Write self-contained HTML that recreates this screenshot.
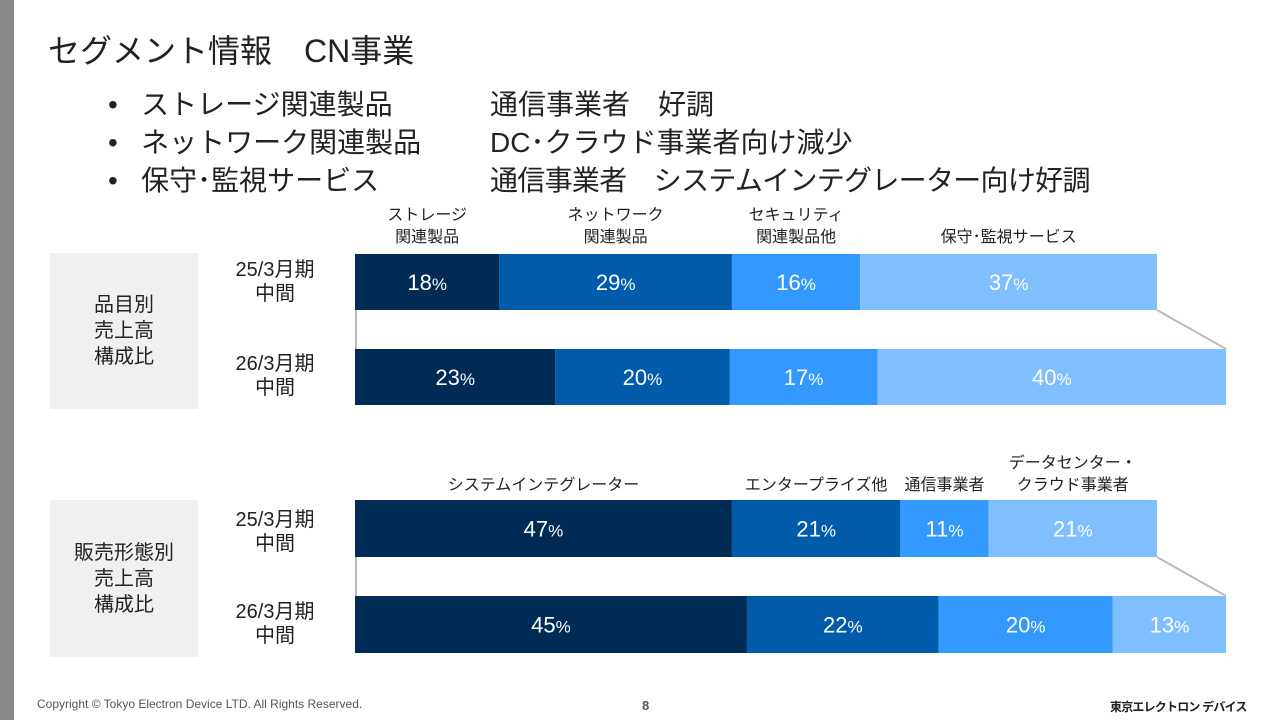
<!DOCTYPE html>
<html><head><meta charset="utf-8"><style>
body{margin:0;width:1280px;height:720px;background:#fff;position:relative;overflow:hidden;font-family:"Liberation Sans","Noto Sans CJK JP",sans-serif;color:#222}
.a{position:absolute}
.box{position:absolute;background:#f0f0f0;left:50px;width:148px;display:flex;align-items:center;justify-content:center;text-align:center;font-size:20px;line-height:26px}
.rl{position:absolute;left:215px;width:120px;text-align:center;font-size:20px;line-height:24px}
.bul{position:absolute;font-size:28px;left:108px;white-space:nowrap}
</style></head><body>
<div class="a" style="left:0;top:0;width:14px;height:720px;background:#888"></div>
<div class="a" style="left:48px;top:26px;font-size:32px">セグメント情報　CN事業</div>
<div class="bul" style="top:83px">•&nbsp;&nbsp; ストレージ関連製品</div>
<div class="bul" style="top:121px">•&nbsp;&nbsp; ネットワーク関連製品</div>
<div class="bul" style="top:159px">•&nbsp;&nbsp; 保守･監視サービス</div>
<div class="bul" style="top:83px;left:490px">通信事業者　好調</div>
<div class="bul" style="top:121px;left:490px">DC･クラウド事業者向け減少</div>
<div class="bul" style="top:159px;left:490px;letter-spacing:-0.7px">通信事業者　システムインテグレーター向け好調</div>
<div class="box" style="top:253px;height:156px">品目別<br>売上高<br>構成比</div>
<div class="box" style="top:500px;height:157px">販売形態別<br>売上高<br>構成比</div>
<div class="rl" style="top:258px">25/3月期<br>中間</div>
<div class="rl" style="top:352px">26/3月期<br>中間</div>
<div class="rl" style="top:508px">25/3月期<br>中間</div>
<div class="rl" style="top:600px">26/3月期<br>中間</div>
<svg class="a" style="left:0;top:0" width="1280" height="720" id="chart"></svg>
<div class="a" style="left:37px;top:697px;font-size:12px;color:#555">Copyright © Tokyo Electron Device LTD. All Rights Reserved.</div>
<div class="a" style="left:642px;top:698px;font-size:13px;color:#555;font-weight:bold">8</div>
<div class="a" style="left:1110px;top:698px;font-size:12px;font-weight:bold;letter-spacing:-0.8px">東京エレクトロン デバイス</div>
<script>
const cats1=["ストレージ\n関連製品","ネットワーク\n関連製品","セキュリティ\n関連製品他","保守･監視サービス"];
const p25=[18,29,16,37];
const p26=[23,20,17,40];
const cats2=["システムインテグレーター","エンタープライズ他","通信事業者","データセンター・\nクラウド事業者"];
const c25=[47,21,11,21];
const c26=[45,22,20,13];
const colors=["#002b55","#005bab","#3399ff","#80bfff"];
const svg=document.getElementById('chart');const NS="http://www.w3.org/2000/svg";
const X0=355;
function el(t,a){const e=document.createElementNS(NS,t);for(const k in a)e.setAttribute(k,a[k]);svg.appendChild(e);return e;}
function row(vals,y,h,w,cats,labelY){
  const tot=vals.reduce((a,b)=>a+b,0);let x=X0;
  vals.forEach((v,i)=>{const bw=v/tot*w;
    const r=el('rect',{x:x,y:y,width:bw,height:h,fill:colors[i]});
    
    const t=el('text',{x:x+bw/2,y:y+h/2+8,'text-anchor':'middle',fill:'#fff','font-size':'22'});
    
    t.textContent=v;const ts=document.createElementNS(NS,'tspan');ts.setAttribute('font-size','17');ts.textContent='%';t.appendChild(ts);
    if(cats){const lines=cats[i].split('\n');lines.forEach((ln,j)=>{
      const c=el('text',{x:x+bw/2,y:labelY-(lines.length-1-j)*22,'text-anchor':'middle',fill:'#222','font-size':'16'});
      c.textContent=ln;});}
    x+=bw;});
}
function pair(a,b,y1,y2,h,cats,labelY){
  const w1=802,w2=871;
  row(a,y1,h,w1,cats,labelY);row(b,y2,h,w2,null);
  const l1=el('line',{x1:X0+w1,y1:y1+h,x2:X0+w2,y2:y2,stroke:'#bbb','stroke-width':2});
  
  const l2=el('line',{x1:X0+1,y1:y1+h,x2:X0+1,y2:y2,stroke:'#bbb','stroke-width':2});
  
}
pair(p25,p26,254,349,56,cats1,242);
pair(c25,c26,500,596,57,cats2,490);
</script>
</body></html>
